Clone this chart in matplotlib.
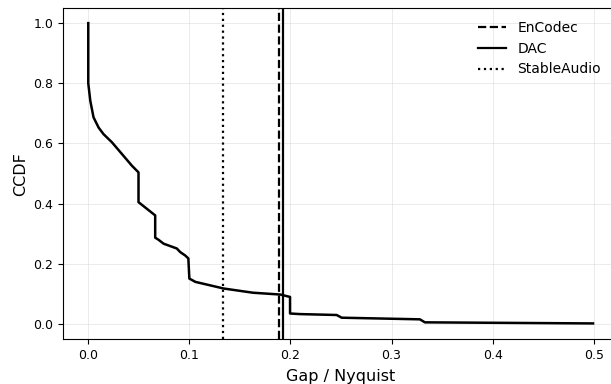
import matplotlib
matplotlib.use('Agg')
import matplotlib.pyplot as plt

# CCDF curve
gap = [0.0, 0.0, 0.002, 0.0052, 0.0102, 0.0151, 0.0234, 0.0333, 0.0432, 0.0497, 0.0497,
       0.0662, 0.0662, 0.0695, 0.0745, 0.0876, 0.091, 0.0958, 0.099, 0.100, 0.106,
       0.12, 0.134, 0.163, 0.19, 0.1996, 0.1996, 0.2095, 0.2457, 0.2507, 0.328,
       0.333, 0.4993]
ccdf = [1.0, 0.80, 0.742, 0.687, 0.653, 0.631, 0.604, 0.565, 0.526, 0.504, 0.405,
        0.361, 0.287, 0.280, 0.267, 0.251, 0.239, 0.228, 0.218, 0.151, 0.14,
        0.129, 0.118, 0.104, 0.098, 0.090, 0.035, 0.033, 0.030, 0.021, 0.0156,
        0.0056, 0.002]

modelos = ['EnCodec', 'DAC', 'StableAudio']
cortes = [0.189, 0.193, 0.1334]
estilos = ['--', '-', ':']

fig = plt.figure(figsize=(6.11, 3.84), dpi=100)
ax = fig.add_axes([0.1031, 0.117, 0.910, 0.862])

ax.plot(gap, ccdf, color='black', lw=1.8)
for nome, corte, estilo in zip(modelos, cortes, estilos):
    ax.axvline(corte, color='black', ls=estilo, lw=1.6, label=nome)

ax.set_xlim(-0.025, 0.525)
ax.set_ylim(-0.05, 1.05)
ax.grid(True, color='#dddddd', lw=0.6, alpha=0.7)
ax.set_xlabel('Gap / Nyquist', fontsize=11.5, labelpad=5)
ax.set_ylabel('CCDF', fontsize=11.5)
ax.tick_params(labelsize=9)
ax.legend(loc='upper right', frameon=False, fontsize=10, bbox_to_anchor=(0.99, 1.0))

fig.savefig('out.png', dpi=100)
